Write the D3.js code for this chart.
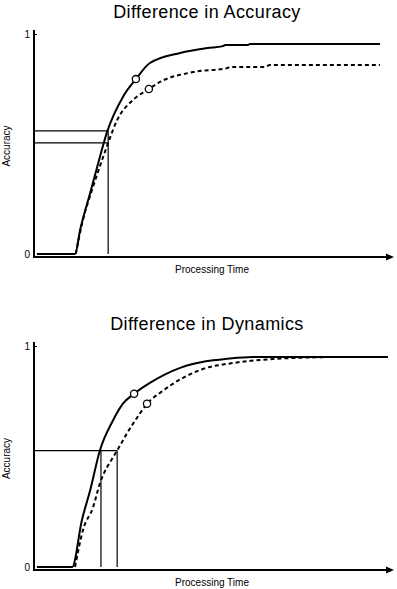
<!DOCTYPE html>
<html>
<head>
<meta charset="utf-8">
<script src="https://cdn.jsdelivr.net/npm/d3@7/dist/d3.min.js"></script>
<style>
  body { margin: 0; background: #fff; }
  svg { display: block; font-family: "Liberation Sans", Arial, sans-serif; }
</style>
</head>
<body>
<div id="chart"></div>
<script>

// Top panel: same processing time, different accuracy
var accSolidTime  = [0.8, 11.4, 12.8, 15.6, 18.3, 20.3, 24.7, 28.3, 32.2, 40.6, 48.1, 52.5, 53.1, 59.4, 60, 96.1];
var accSolidValue = [0, 0, 0.109, 0.277, 0.441, 0.555, 0.714, 0.795, 0.868, 0.914, 0.936, 0.945, 0.95, 0.95, 0.955, 0.955];
var accDashTime   = [11.6, 13.6, 16.4, 19.2, 20.6, 23.1, 27.5, 31.9, 35, 44.2, 53.6, 54.4, 64, 65.5, 96.1];
var accDashValue  = [0, 0.155, 0.305, 0.441, 0.505, 0.609, 0.70, 0.75, 0.782, 0.827, 0.845, 0.85, 0.85, 0.859, 0.859];
var accMarkTime   = [28.3, 31.9];
var accMarkValue  = [0.795, 0.75];
var accGuideTime  = [20.6];
var accGuideValue = [0.56, 0.505];

// Bottom panel: same accuracy, different processing time
var dynSolidTime  = [0.8, 10.6, 13.3, 15.6, 18.3, 21.9, 24.7, 27.8, 32.2, 40.6, 48.1, 53.1, 60.8, 98.3];
var dynSolidValue = [0, 0, 0.212, 0.347, 0.527, 0.662, 0.739, 0.784, 0.833, 0.901, 0.932, 0.941, 0.95, 0.95];
var dynDashTime   = [11.4, 13.6, 16.4, 18.3, 21.9, 23.1, 25.8, 29.4, 31.4, 35, 41.4, 46.9, 55.3, 66.4, 82.2];
var dynDashValue  = [0, 0.167, 0.270, 0.378, 0.495, 0.527, 0.604, 0.694, 0.739, 0.788, 0.856, 0.896, 0.923, 0.941, 0.95];
var dynMarkTime   = [27.8, 31.4];
var dynMarkValue  = [0.784, 0.739];
var dynGuideTime  = [18.6, 23.1];
var dynGuideValue = [0.527];

var yTicks = [0, 1];
var yTickLabels = ["0", "1"];

function zip(xs, ys) {
  return xs.map(function(d, i){ return { t: d, v: ys[i] }; });
}

/*
 * CurvePanel - one accuracy vs. processing time plot
 */
CurvePanel = function(_svg, _title, _top, _height, _data){
  this.svg    = _svg;
  this.title  = _title;
  this.top    = _top;
  this.height = _height;
  this.data   = _data;

  this.initVis();
}

CurvePanel.prototype.initVis = function(){
  var vis = this;

  vis.g = vis.svg.append("g");

  // Scales
  vis.x = d3.scaleLinear()
    .domain([0, 100])
    .range([34, 394]);

  vis.y = d3.scaleLinear()
    .domain([0, 1])
    .range([vis.top + vis.height, vis.top]);

  vis.axisY = vis.y(0) + 3;

  // Title
  vis.g.append("text")
    .attr("x", 207)
    .attr("y", vis.top - 16)
    .attr("text-anchor", "middle")
    .style("font-size", "18px")
    .style("letter-spacing", "0.4px")
    .text(vis.title);

  // Y axis line
  vis.g.append("line")
    .attr("x1", vis.x(0)).attr("x2", vis.x(0))
    .attr("y1", vis.y(1) - 4).attr("y2", vis.axisY)
    .attr("stroke", "#000")
    .attr("stroke-width", 2);

  // X axis line with arrow
  vis.g.append("line")
    .attr("x1", vis.x(0) - 1).attr("x2", vis.x(100) - 6)
    .attr("y1", vis.axisY).attr("y2", vis.axisY)
    .attr("stroke", "#000")
    .attr("stroke-width", 2);

  vis.g.append("path")
    .attr("d", "M" + (vis.x(100) - 8) + "," + (vis.axisY - 3.5) +
               "L" + vis.x(100) + "," + vis.axisY +
               "L" + (vis.x(100) - 8) + "," + (vis.axisY + 3.5) + "Z")
    .attr("fill", "#000");

  // Tick labels
  var yAxis = d3.axisLeft(vis.y)
    .tickValues(yTicks)
    .tickFormat(function(d, i){ return yTickLabels[i]; })
    .tickSize(0)
    .tickPadding(4);

  var ax = vis.g.append("g")
    .attr("transform", "translate(" + vis.x(0) + ",0)")
    .call(yAxis);
  ax.select(".domain").remove();
  ax.selectAll("text")
    .style("font-size", "10px")
    .style("font-family", "Liberation Sans, Arial, sans-serif")
    .attr("fill", "#000");
  ax.selectAll(".tick")
    .filter(function(d){ return d == 1; })
    .append("line")
    .attr("x1", 0).attr("x2", 3)
    .attr("stroke", "#000");

  // Axis labels
  vis.g.append("text")
    .attr("text-anchor", "middle")
    .attr("transform", "translate(10," + (vis.top + vis.height / 2 + 2) + ")rotate(-90)")
    .style("font-size", "10px")
    .text("Accuracy");

  vis.g.append("text")
    .attr("text-anchor", "middle")
    .attr("x", 212)
    .attr("y", vis.axisY + 16)
    .style("font-size", "10px")
    .text("Processing Time");

  vis.updateVis();
}

CurvePanel.prototype.updateVis = function(){
  var vis = this;
  var d = vis.data;

  var line = d3.line()
    .x(function(p){ return vis.x(p.t); })
    .y(function(p){ return vis.y(p.v); })
    .curve(d3.curveMonotoneX);

  // Guide lines (drawn first, thin)
  var guides = vis.g.append("g")
    .attr("stroke", "#000")
    .attr("stroke-width", 1.2);

  var maxT = d3.max(d.guideTime);
  var maxV = d3.max(d.guideValue);

  d.guideValue.forEach(function(v){
    guides.append("line")
      .attr("x1", vis.x(0)).attr("x2", vis.x(maxT))
      .attr("y1", vis.y(v)).attr("y2", vis.y(v));
  });
  d.guideTime.forEach(function(t){
    guides.append("line")
      .attr("x1", vis.x(t)).attr("x2", vis.x(t))
      .attr("y1", vis.y(maxV)).attr("y2", vis.y(0));
  });

  // Curves
  vis.g.append("path")
    .datum(zip(d.dashTime, d.dashValue))
    .attr("d", line)
    .attr("fill", "none")
    .attr("stroke", "#000")
    .attr("stroke-width", 2)
    .attr("stroke-dasharray", "4,3");

  vis.g.append("path")
    .datum(zip(d.solidTime, d.solidValue))
    .attr("d", line)
    .attr("fill", "none")
    .attr("stroke", "#000")
    .attr("stroke-width", 2);

  // Markers
  vis.g.selectAll("circle.mark")
    .data(zip(d.markTime, d.markValue))
    .enter()
    .append("circle")
    .attr("class", "mark")
    .attr("cx", function(p){ return vis.x(p.t); })
    .attr("cy", function(p){ return vis.y(p.v); })
    .attr("r", 3.6)
    .attr("fill", "#fff")
    .attr("stroke", "#000")
    .attr("stroke-width", 1.3);
}

var svg = d3.select("#chart").append("svg")
  .attr("width", 397)
  .attr("height", 589);

new CurvePanel(svg, "Difference in Accuracy", 34, 220, {
  solidTime: accSolidTime, solidValue: accSolidValue,
  dashTime: accDashTime, dashValue: accDashValue,
  markTime: accMarkTime, markValue: accMarkValue,
  guideTime: accGuideTime, guideValue: accGuideValue
});

new CurvePanel(svg, "Difference in Dynamics", 346, 221, {
  solidTime: dynSolidTime, solidValue: dynSolidValue,
  dashTime: dynDashTime, dashValue: dynDashValue,
  markTime: dynMarkTime, markValue: dynMarkValue,
  guideTime: dynGuideTime, guideValue: dynGuideValue
});

</script>
</body>
</html>
